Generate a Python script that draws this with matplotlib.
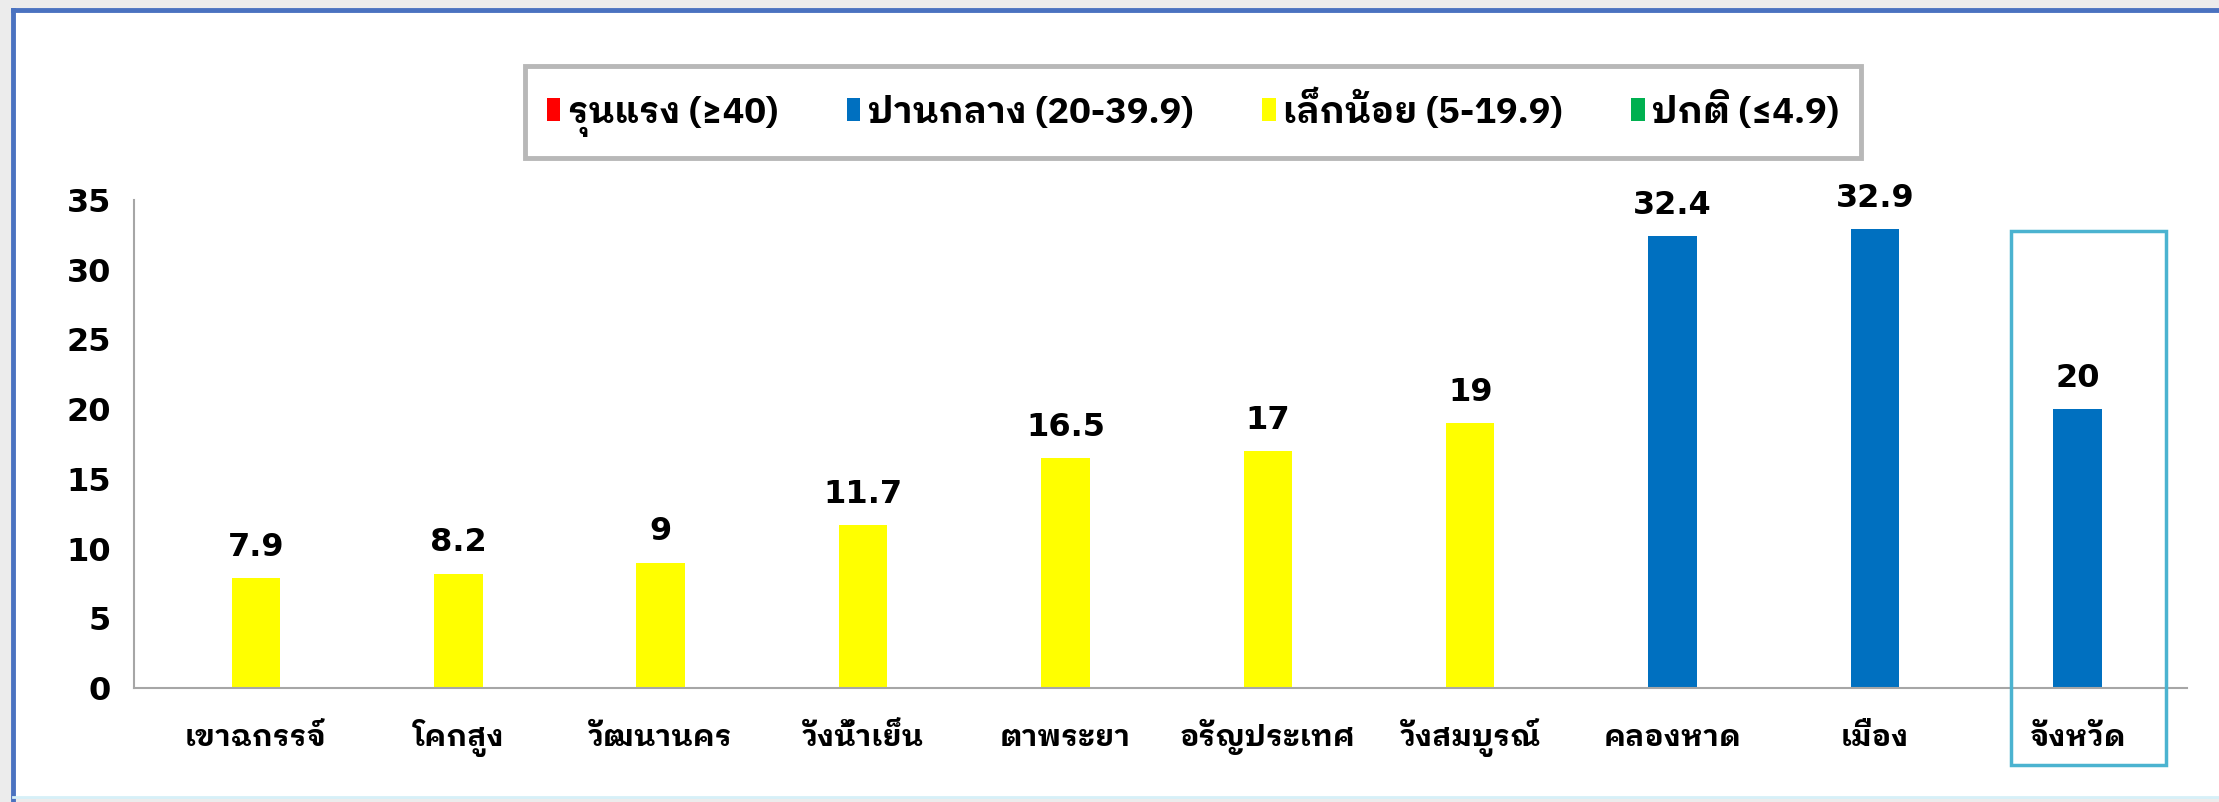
import matplotlib
matplotlib.use('Agg')
import matplotlib.pyplot as plt
from matplotlib import font_manager
from matplotlib.patches import Patch, Rectangle
import numpy as np

# data
districts = ['เขาฉกรรจ์', 'โคกสูง', 'วัฒนานคร', 'วังน้ำเย็น', 'ตาพระยา',
             'อรัญประเทศ', 'วังสมบูรณ์', 'คลองหาด', 'เมือง', 'จังหวัด']
values = [7.9, 8.2, 9, 11.7, 16.5, 17, 19, 32.4, 32.9, 20]
value_labels = ['7.9', '8.2', '9', '11.7', '16.5', '17', '19', '32.4', '32.9', '20']
levels = ['รุนแรง (≥40)', 'ปานกลาง (20-39.9)', 'เล็กน้อย (5-19.9)', 'ปกติ (≤4.9)']
level_colors = ['#FF0000', '#0070C0', '#FFFF00', '#00B050']
yticks = [0, 5, 10, 15, 20, 25, 30, 35]

# pick a Thai font that has a real bold face
bold_names = set(f.name for f in font_manager.fontManager.ttflist
                 if isinstance(f.weight, int) and f.weight >= 700
                 or f.weight == 'bold')
thai = 'DejaVu Sans'
for cand in ['Noto Sans Thai Looped', 'IBM Plex Sans Thai Looped', 'Sarabun',
             'Noto Sans Thai', 'IBM Plex Sans Thai', 'Anuphan']:
    if cand in bold_names:
        thai = cand
        break
thai_fam = [thai, 'DejaVu Sans']


def bar_color(v):
    if v >= 40:
        return level_colors[0]
    if v >= 20:
        return level_colors[1]
    if v >= 5:
        return level_colors[2]
    return level_colors[3]


fig = plt.figure(figsize=(22.19, 8.02), dpi=100)
fig.patch.set_facecolor('#ECECEC')
# white panel with blue frame
fig.add_artist(Rectangle((13 / 2219, 0.006), 1.0, 1 - 10 / 802 - 0.006,
                         transform=fig.transFigure, facecolor='white',
                         edgecolor='none', zorder=0))
fig.add_artist(plt.Line2D([13 / 2219, 13 / 2219], [0.0, 1 - 10 / 802],
                          transform=fig.transFigure, color='#4A72C0', lw=3.5))
fig.add_artist(plt.Line2D([13 / 2219, 1.0], [1 - 10 / 802, 1 - 10 / 802],
                          transform=fig.transFigure, color='#4A72C0', lw=3.5))
fig.add_artist(plt.Line2D([13 / 2219, 1.0], [0.006, 0.006],
                          transform=fig.transFigure, color='#D6F0F8', lw=2))

ax = fig.add_axes([0.0606, 0.1421, 0.9248, 0.6085])
ax.set_facecolor('none')
x = np.arange(len(districts))
colors = [bar_color(v) for v in values]
ax.bar(x, values, width=0.24, color=colors, zorder=2)

for xi, v, lab in zip(x, values, value_labels):
    ax.annotate(lab, (xi, v), xytext=(0, 11), textcoords='offset points',
                ha='center', va='bottom', fontsize=23, fontweight='bold',
                family='DejaVu Sans')

ax.set_ylim(0, 35)
ax.set_xlim(-0.60, 9.54)
ax.set_yticks(yticks)
ax.set_yticklabels([str(t) for t in yticks], fontsize=23, fontweight='bold')
ax.set_xticks(x)
ax.set_xticklabels(districts, fontsize=21.5, fontweight='bold', family=thai_fam)
for lab in ax.get_xticklabels():
    lab.set_verticalalignment('baseline')
ax.tick_params(axis='y', length=0, pad=17)
ax.tick_params(axis='x', length=0, pad=42)
for s in ['top', 'right']:
    ax.spines[s].set_visible(False)
for s in ['left', 'bottom']:
    ax.spines[s].set_color('#A6A6A6')
    ax.spines[s].set_linewidth(1.5)

# highlight box around the province bar
ax.add_patch(Rectangle((9 - 0.33, -5.5), 0.77, 38.3, fill=False,
                       edgecolor='#4BB3D0', lw=2.5, clip_on=False, zorder=3))

handles = [Patch(facecolor=c, edgecolor='none') for c in level_colors]
leg = fig.legend(handles, levels, loc='center', ncol=4,
                 bbox_to_anchor=(507 / 2219, 0.860, 1372 / 2219, 0), mode='expand',
                 prop={'family': thai_fam, 'weight': 'bold', 'size': 26},
                 handlelength=0.38, handleheight=0.6, handletextpad=0.2,
                 borderpad=0.6, fancybox=False, frameon=True)
leg.get_frame().set_edgecolor('#A6A6A6')
leg.get_frame().set_linewidth(3.5)

fig.savefig('out.png', dpi=100, facecolor=fig.get_facecolor())
